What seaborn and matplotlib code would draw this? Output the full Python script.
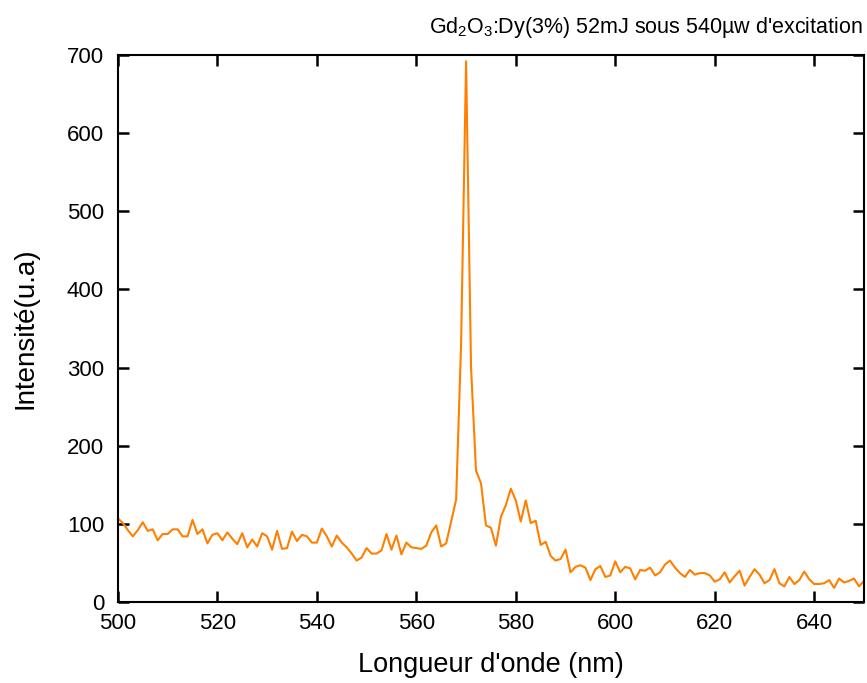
import numpy as np
import pandas as pd
import matplotlib
matplotlib.use("Agg")
import matplotlib.pyplot as plt
import seaborn as sns

# wavelength in nm, one point per nm from 500 to 650
wavelength = list(range(500, 651))

intensity = [
    107, 101, 92, 84, 92, 102, 91, 93, 79, 87,      # 500-509
    87, 93, 93, 84, 84, 105, 87, 93, 75, 86,        # 510-519
    88, 79, 89, 81, 74, 88, 70, 80, 71, 88,         # 520-529
    84, 67, 91, 68, 69, 90, 78, 86, 84, 76,         # 530-539
    76, 94, 84, 71, 85, 76, 70, 62, 53, 57,         # 540-549
    69, 62, 62, 66, 87, 67, 85, 61, 76, 70,         # 550-559
    69, 68, 72, 89, 98, 71, 75, 103, 131, 330,      # 560-569
    692, 300, 168, 152, 98, 95, 72, 109, 124, 145,  # 570-579
    130, 103, 130, 101, 104, 73, 77, 59, 53, 55,    # 580-589
    67, 38, 45, 47, 44, 28, 42, 46, 32, 34,         # 590-599
    52, 38, 45, 43, 29, 41, 40, 44, 34, 38,         # 600-609
    48, 53, 44, 37, 32, 41, 35, 37, 37, 34,         # 610-619
    26, 29, 38, 25, 33, 40, 21, 32, 42, 35,         # 620-629
    24, 28, 42, 24, 20, 32, 23, 28, 39, 29,         # 630-639
    23, 23, 24, 28, 18, 30, 25, 27, 30, 20,         # 640-649
    27,                                             # 650
]

x_ticks = [500, 520, 540, 560, 580, 600, 620, 640]
y_ticks = [0, 100, 200, 300, 400, 500, 600, 700]

title_text = "Gd$_2$O$_3$:Dy(3%) 52mJ sous 540\u00b5w d'excitation"

df = pd.DataFrame({"wavelength": wavelength, "intensity": intensity})

sns.set_style("ticks")
plt.rcParams['font.family'] = ['Liberation Sans', 'DejaVu Sans']
plt.rcParams['mathtext.fontset'] = 'custom'
plt.rcParams['mathtext.rm'] = 'Liberation Sans'
plt.rcParams['mathtext.it'] = 'Liberation Sans'
plt.rcParams['text.color'] = 'black'
plt.rcParams['axes.labelcolor'] = 'black'
plt.rcParams['xtick.color'] = 'black'
plt.rcParams['ytick.color'] = 'black'
plt.rcParams['axes.edgecolor'] = 'black'

fig = plt.figure(figsize=(8.67, 6.83), dpi=100)
ax = fig.add_axes([0.136, 0.1186, 0.8605, 0.8009])

sns.lineplot(data=df, x="wavelength", y="intensity", ax=ax,
             color="#ff8000", linewidth=1.5)

ax.set_xlim(500, 650)
ax.set_ylim(0, 700)
ax.set_xticks(x_ticks)
ax.set_yticks(y_ticks)

for side in ["top", "right", "bottom", "left"]:
    ax.spines[side].set_visible(True)
    ax.spines[side].set_linewidth(1.5)

ax.tick_params(direction="in", length=8, width=1.8, top=True, right=True,
               labelsize=16)
ax.tick_params(axis="x", pad=8)
ax.tick_params(axis="y", pad=10)
for lbl in ax.get_xticklabels() + ax.get_yticklabels():
    lbl.set_family(['Liberation Sans Narrow', 'Liberation Sans'])
    lbl.set_fontsize(16)

ax.set_xlabel("Longueur d'onde (nm)", fontsize=19.5, labelpad=13)
ax.set_ylabel("Intensit\u00e9(u.a)", fontsize=20, labelpad=20)

fig.text(0.995, 0.952, title_text, ha="right", va="baseline", fontsize=15.5)

fig.savefig("out.png", dpi=100)
plt.close(fig)
